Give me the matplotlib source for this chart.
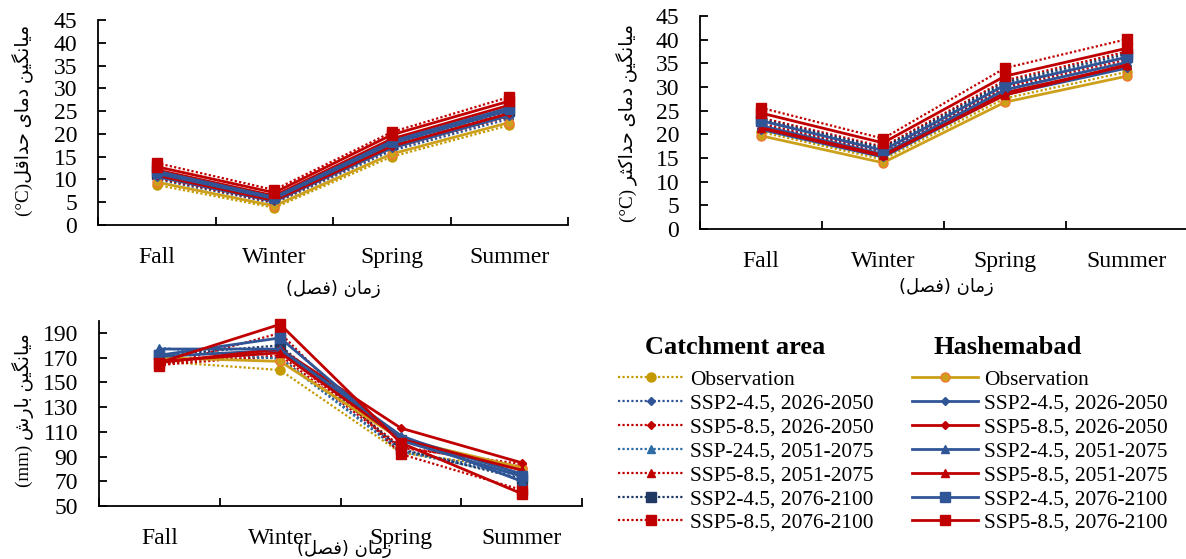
import matplotlib
matplotlib.use("Agg")
import matplotlib.pyplot as plt
from matplotlib.lines import Line2D

plt.rcParams['font.family'] = ['Liberation Serif', 'DejaVu Sans']

seasons = ['Fall', 'Winter', 'Spring', 'Summer']
labels_catch = ['Observation', 'SSP2-4.5, 2026-2050', 'SSP5-8.5, 2026-2050',
                'SSP-24.5, 2051-2075', 'SSP5-8.5, 2051-2075',
                'SSP2-4.5, 2076-2100', 'SSP5-8.5, 2076-2100']
labels_hash = ['Observation', 'SSP2-4.5, 2026-2050', 'SSP5-8.5, 2026-2050',
               'SSP2-4.5, 2051-2075', 'SSP5-8.5, 2051-2075',
               'SSP2-4.5, 2076-2100', 'SSP5-8.5, 2076-2100']

# minimum temperature (degC), rows follow the label order
tmin_catch = [[8.8, 3.8, 15.0, 21.9],
              [10.0, 4.8, 16.3, 23.3],
              [10.3, 5.0, 16.8, 23.8],
              [10.8, 5.3, 17.3, 24.4],
              [11.5, 5.9, 18.2, 25.5],
              [11.2, 5.6, 17.8, 25.0],
              [13.6, 7.7, 20.4, 28.1]]
tmin_hash = [[9.4, 4.2, 15.6, 22.5],
             [10.6, 5.2, 16.9, 24.0],
             [10.9, 5.4, 17.3, 24.5],
             [11.3, 5.8, 17.9, 25.2],
             [12.1, 6.4, 18.9, 26.3],
             [11.8, 6.1, 18.4, 25.7],
             [12.8, 7.1, 19.8, 27.2]]

# maximum temperature (degC)
tmax_catch = [[20.5, 14.7, 27.6, 33.2],
              [22.0, 16.2, 29.6, 35.3],
              [22.3, 16.4, 30.0, 35.8],
              [22.8, 16.8, 30.6, 36.5],
              [23.5, 17.4, 31.4, 37.5],
              [23.2, 17.1, 31.0, 37.0],
              [25.6, 19.1, 34.0, 40.1]]
tmax_hash = [[19.7, 14.0, 26.8, 32.3],
             [21.0, 15.2, 28.4, 34.0],
             [21.3, 15.4, 28.8, 34.5],
             [21.8, 15.8, 29.4, 35.2],
             [21.4, 15.6, 28.3, 34.7],
             [22.9, 16.6, 30.4, 36.3],
             [24.5, 18.2, 32.3, 38.2]]

# precipitation (mm)
prcp_catch = [[167, 160, 93, 80],
              [168, 170, 95, 76],
              [164, 172, 97, 84],
              [178, 169, 94, 74],
              [165, 175, 98, 82],
              [172, 180, 96, 72],
              [163, 190, 92, 63]]
prcp_hash = [[170, 167, 104, 81],
             [171, 176, 106, 76],
             [166, 177, 113, 85],
             [177, 177, 107, 70],
             [167, 174, 104, 79],
             [172, 186, 103, 74],
             [166, 197, 101, 60]]

markers = ['o', 'D', 'D', '^', '^', 's', 's']
msizes = [6.5, 4.5, 4.5, 6, 6, 6.5, 7]
colors_catch = ['#C49A00', '#2F5597', '#C00000', '#2E6DA4', '#C00000', '#1F3864', '#C00000']
colors_hash = ['#CCA01A', '#2F5597', '#C00000', '#2F5597', '#C00000', '#2F5597', '#C00000']
edge_hash = ['#F07830', '#2F5597', '#C00000', '#2F5597', '#C00000', '#2F5597', '#C00000']

# contextual glyph forms: isolated, final, initial, medial
FORMS = {
    'ا': ('\uFE8D', '\uFE8E', None, None),
    'د': ('\uFEA9', '\uFEAA', None, None),
    'ر': ('\uFEAD', '\uFEAE', None, None),
    'ز': ('\uFEAF', '\uFEB0', None, None),
    'ب': ('\uFE8F', '\uFE90', '\uFE91', '\uFE92'),
    'ث': ('\uFE99', '\uFE9A', '\uFE9B', '\uFE9C'),
    'ح': ('\uFEA1', '\uFEA2', '\uFEA3', '\uFEA4'),
    'ش': ('\uFEB5', '\uFEB6', '\uFEB7', '\uFEB8'),
    'ص': ('\uFEB9', '\uFEBA', '\uFEBB', '\uFEBC'),
    'ف': ('\uFED1', '\uFED2', '\uFED3', '\uFED4'),
    'ق': ('\uFED5', '\uFED6', '\uFED7', '\uFED8'),
    'ل': ('\uFEDD', '\uFEDE', '\uFEDF', '\uFEE0'),
    'م': ('\uFEE1', '\uFEE2', '\uFEE3', '\uFEE4'),
    'ن': ('\uFEE5', '\uFEE6', '\uFEE7', '\uFEE8'),
    'ک': ('\uFB8E', '\uFB8F', '\uFB90', '\uFB91'),
    'گ': ('\uFB92', '\uFB93', '\uFB94', '\uFB95'),
    'ی': ('\uFBFC', '\uFBFD', '\uFBFE', '\uFBFF'),
}


def fa(text):
    """shape persian letters and return them in left-to-right drawing order"""
    out = []
    for i, ch in enumerate(text):
        if ch not in FORMS:
            out.append(ch)
            continue
        prev = text[i - 1] if i > 0 else ''
        nxt = text[i + 1] if i + 1 < len(text) else ''
        join_prev = prev in FORMS and FORMS[prev][2] is not None
        join_next = FORMS[ch][2] is not None and nxt in FORMS
        iso, fin, ini, med = FORMS[ch]
        if join_prev and join_next:
            out.append(med)
        elif join_prev:
            out.append(fin)
        elif join_next:
            out.append(ini)
        else:
            out.append(iso)
    vis = ''.join(reversed(out))
    return vis.translate(str.maketrans('()', ')('))


W, H = 1186, 559
fig = plt.figure(figsize=(W / 100, H / 100), dpi=100)


def add_ax(left, right, top, bottom):
    return fig.add_axes([left / W, 1 - bottom / H, (right - left) / W, (bottom - top) / H])


def draw(ax, catch, hashem, ylim, yticks, ylabel, ylab_pos, xlab_pos):
    x = range(len(seasons))
    for i in range(7):
        ax.plot(x, catch[i], linestyle=(0, (1, 1)), lw=1.6, color=colors_catch[i],
                marker=markers[i], ms=msizes[i], mfc=colors_catch[i], mec=colors_catch[i],
                clip_on=False, zorder=3)
    for i in range(7):
        ax.plot(x, hashem[i], '-', lw=2, color=colors_hash[i],
                marker=markers[i], ms=msizes[i], mfc=colors_hash[i], mec=edge_hash[i],
                clip_on=False, zorder=3)
    ax.set_xlim(-0.5, 3.5)
    ax.set_ylim(*ylim)
    ax.set_yticks(yticks)
    ax.set_xticks([-0.5, 0.5, 1.5, 2.5, 3.5])
    ax.set_xticklabels([])
    ax.set_xticks(list(x), minor=True)
    ax.set_xticklabels(seasons, minor=True, fontsize=17)
    ax.tick_params(axis='x', which='major', direction='in', length=6, width=1.3)
    ax.tick_params(axis='x', which='minor', length=0, pad=16)
    ax.tick_params(axis='y', direction='in', length=6, width=1.3, pad=15, labelsize=17)
    for s in ['top', 'right']:
        ax.spines[s].set_visible(False)
    for s in ['left', 'bottom']:
        ax.spines[s].set_linewidth(1.3)
    fig.text(ylab_pos[0] / W, 1 - ylab_pos[1] / H, ylabel, rotation=90,
             ha='center', va='center', fontsize=13.8)
    fig.text(xlab_pos[0] / W, 1 - xlab_pos[1] / H, fa('زمان (فصل)'),
             ha='center', va='center', fontsize=13, family='DejaVu Sans')


ax1 = add_ax(98, 568, 20, 225)
draw(ax1, tmin_catch, tmin_hash, (0, 45), range(0, 46, 5),
     '(°C)' + fa('میانگین دمای حداقل'), (23, 120), (333, 289))

ax2 = add_ax(700, 1188, 16, 229)
draw(ax2, tmax_catch, tmax_hash, (0, 45), range(0, 46, 5),
     '(°C) ' + fa('میانگین دمای حداکثر'), (627, 123), (946, 287))

ax3 = add_ax(99, 582, 320.6, 506)
draw(ax3, prcp_catch, prcp_hash, (50, 200), range(50, 191, 20),
     '(mm) ' + fa('میانگین بارش'), (23, 410), (344, 549))

# legend: two columns, dotted = catchment area, solid = Hashemabad
h_catch = [Line2D([], [], linestyle=(0, (1, 1)), lw=1.6, color=colors_catch[i],
                  marker=markers[i], ms=msizes[i], mfc=colors_catch[i], mec=colors_catch[i])
           for i in range(7)]
h_hash = [Line2D([], [], linestyle='-', lw=2, color=colors_hash[i],
                 marker=markers[i], ms=msizes[i], mfc=colors_hash[i], mec=edge_hash[i])
          for i in range(7)]
for handles, labels, x0 in [(h_catch, labels_catch, 618), (h_hash, labels_hash, 912)]:
    fig.legend(handles, labels, loc='upper left', bbox_to_anchor=(x0 / W, 1 - 370 / H),
               frameon=False, fontsize=15.4, handlelength=3.1, handletextpad=0.25,
               labelspacing=0.18, borderpad=0, borderaxespad=0)

fig.text(735 / W, 1 - 347 / H, 'Catchment area', ha='center', va='center',
         fontsize=19, fontweight='bold')
fig.text(1008 / W, 1 - 347 / H, 'Hashemabad', ha='center', va='center',
         fontsize=19, fontweight='bold')

fig.savefig('out.png', dpi=100)
